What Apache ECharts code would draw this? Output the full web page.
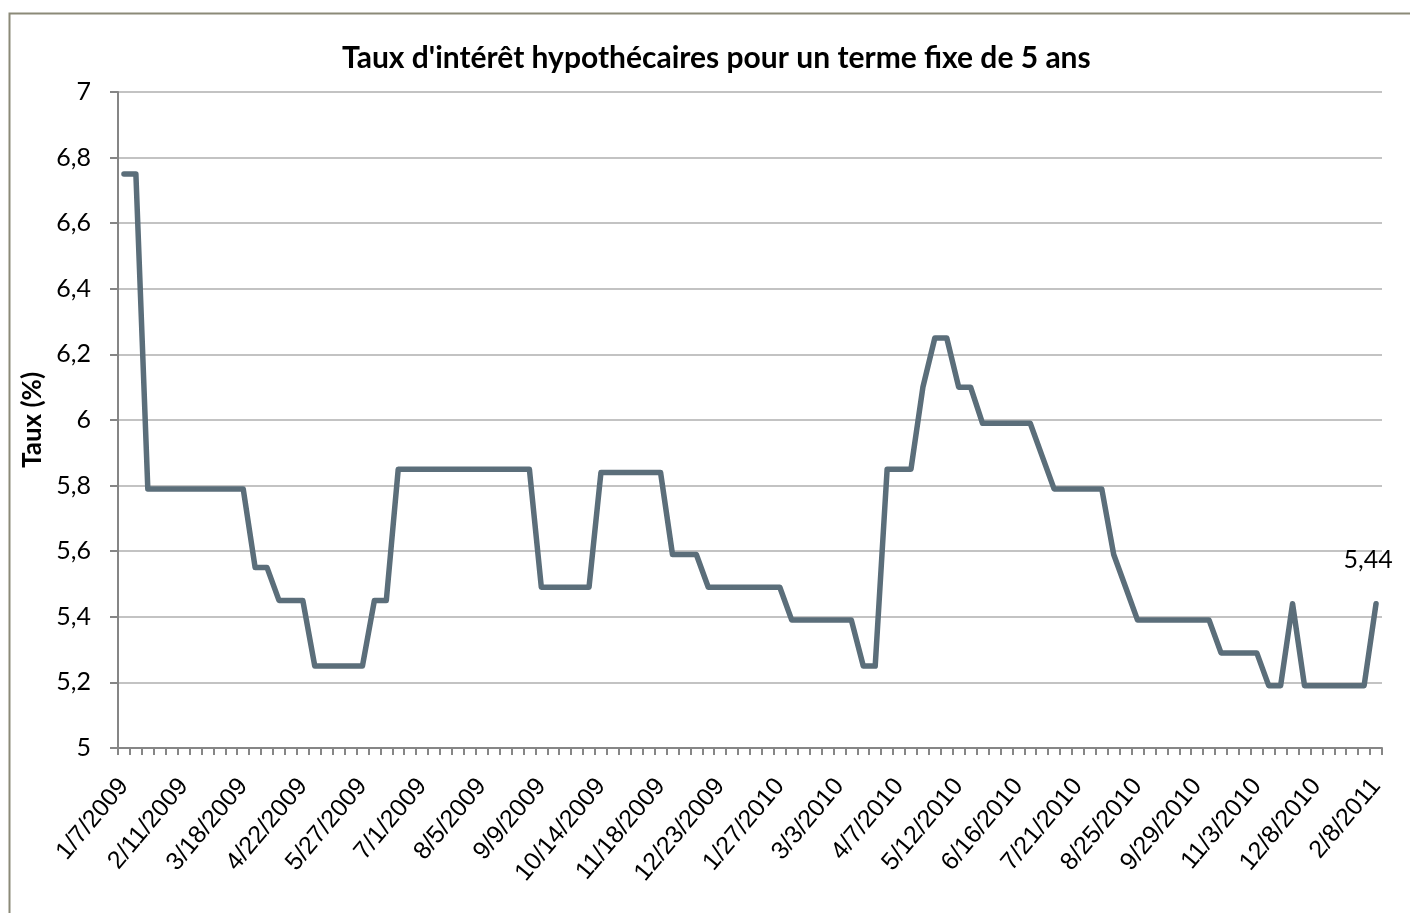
<!DOCTYPE html>
<html>
<head>
<meta charset="utf-8">
<title>Taux hypothécaires 5 ans</title>
<script src="https://cdn.jsdelivr.net/npm/echarts@6/dist/echarts.min.js"></script>
<style>
    html, body { margin: 0; padding: 0; background: #ffffff; }
    #chart { width: 1410px; height: 913px; }
</style>
</head>
<body>
<div id="chart"></div>
<script>
// dates (weekly, Excel text axis)
var dates = [
    "1/7/2009", "1/14/2009", "1/21/2009", "1/28/2009", "2/4/2009",
    "2/11/2009", "2/18/2009", "2/25/2009", "3/4/2009", "3/11/2009",
    "3/18/2009", "3/25/2009", "4/1/2009", "4/8/2009", "4/15/2009",
    "4/22/2009", "4/29/2009", "5/6/2009", "5/13/2009", "5/20/2009",
    "5/27/2009", "6/3/2009", "6/10/2009", "6/17/2009", "6/24/2009",
    "7/1/2009", "7/8/2009", "7/15/2009", "7/22/2009", "7/29/2009",
    "8/5/2009", "8/12/2009", "8/19/2009", "8/26/2009", "9/2/2009",
    "9/9/2009", "9/16/2009", "9/23/2009", "9/30/2009", "10/7/2009",
    "10/14/2009", "10/21/2009", "10/28/2009", "11/4/2009", "11/11/2009",
    "11/18/2009", "11/25/2009", "12/2/2009", "12/9/2009", "12/16/2009",
    "12/23/2009", "12/30/2009", "1/6/2010", "1/13/2010", "1/20/2010",
    "1/27/2010", "2/3/2010", "2/10/2010", "2/17/2010", "2/24/2010",
    "3/3/2010", "3/10/2010", "3/17/2010", "3/24/2010", "3/31/2010",
    "4/7/2010", "4/14/2010", "4/21/2010", "4/28/2010", "5/5/2010",
    "5/12/2010", "5/19/2010", "5/26/2010", "6/2/2010", "6/9/2010",
    "6/16/2010", "6/23/2010", "6/30/2010", "7/7/2010", "7/14/2010",
    "7/21/2010", "7/28/2010", "8/4/2010", "8/11/2010", "8/18/2010",
    "8/25/2010", "9/1/2010", "9/8/2010", "9/15/2010", "9/22/2010",
    "9/29/2010", "10/6/2010", "10/13/2010", "10/20/2010", "10/27/2010",
    "11/3/2010", "11/10/2010", "11/17/2010", "11/24/2010", "12/1/2010",
    "12/8/2010", "12/15/2010", "12/22/2010", "1/12/2011", "1/26/2011",
    "2/8/2011"
];

// taux fixe 5 ans (%)
var taux = [
    6.75, 6.75, 5.79, 5.79, 5.79, 5.79, 5.79, 5.79, 5.79, 5.79,
    5.79, 5.55, 5.55, 5.45, 5.45, 5.45, 5.25, 5.25, 5.25, 5.25,
    5.25, 5.45, 5.45, 5.85, 5.85, 5.85, 5.85, 5.85, 5.85, 5.85,
    5.85, 5.85, 5.85, 5.85, 5.85, 5.49, 5.49, 5.49, 5.49, 5.49,
    5.84, 5.84, 5.84, 5.84, 5.84, 5.84, 5.59, 5.59, 5.59, 5.49,
    5.49, 5.49, 5.49, 5.49, 5.49, 5.49, 5.39, 5.39, 5.39, 5.39,
    5.39, 5.39, 5.25, 5.25, 5.85, 5.85, 5.85, 6.10, 6.25, 6.25,
    6.10, 6.10, 5.99, 5.99, 5.99, 5.99, 5.99, 5.89, 5.79, 5.79,
    5.79, 5.79, 5.79, 5.59, 5.49, 5.39, 5.39, 5.39, 5.39, 5.39,
    5.39, 5.39, 5.29, 5.29, 5.29, 5.29, 5.19, 5.19, 5.44, 5.19,
    5.19, 5.19, 5.19, 5.19, 5.19, 5.44
];

var yTicks = { min: 5, max: 7, step: 0.2 };

var lineColor = "#5b6e7a";

var chart = echarts.init(document.getElementById("chart"));

// seul le dernier point porte une étiquette
var lastIdx = taux.length - 1;
var seriesData = taux.map(function (v, i) {
    if (i === lastIdx) {
        return {
            value: v,
            label: {
                show: true,
                position: "top",
                distance: 31,
                offset: [-8, 0],
                formatter: function (p) { return String(p.value).replace(".", ","); },
                fontFamily: "Lato",
                fontSize: 25,
                color: "#000000"
            }
        };
    }
    return v;
});

var option = {
    backgroundColor: "#ffffff",
    animation: false,
    title: {
        text: "Taux d'intérêt hypothécaires pour un terme fixe de 5 ans",
        left: 337,
        top: 38,
        textStyle: {
            fontFamily: "Lato",
            fontWeight: "bold",
            fontSize: 30,
            color: "#000000"
        }
    },
    graphic: [
        {
            // cadre de la zone graphique (Excel)
            type: "rect",
            shape: { x: 9.5, y: 13.5, width: 1500, height: 1000 },
            style: { fill: null, stroke: "#8b8a78", lineWidth: 2 },
            silent: true
        }
    ],
    grid: {
        left: 118,
        right: 28,
        top: 92,
        bottom: 165,
        containLabel: false
    },
    xAxis: {
        type: "category",
        boundaryGap: true,
        data: dates,
        axisLine: {
            show: true,
            lineStyle: { color: "#868686", width: 2 }
        },
        axisTick: {
            show: true,
            interval: 0,
            length: 7,
            lineStyle: { color: "#868686", width: 2 }
        },
        axisLabel: {
            interval: 4,
            rotate: 50,
            margin: 34,
            fontFamily: "Liberation Sans",
            fontSize: 25,
            color: "#000000"
        },
        splitLine: { show: false }
    },
    yAxis: {
        type: "value",
        min: yTicks.min,
        max: yTicks.max,
        interval: yTicks.step,
        name: "Taux (%)",
        nameLocation: "middle",
        nameGap: 72,
        nameRotate: 90,
        nameTextStyle: {
            fontFamily: "Lato",
            fontWeight: "bold",
            fontSize: 26,
            color: "#000000"
        },
        axisLine: {
            show: true,
            lineStyle: { color: "#868686", width: 2 }
        },
        axisTick: {
            show: true,
            inside: false,
            length: 8,
            lineStyle: { color: "#868686", width: 2 }
        },
        axisLabel: {
            margin: 27,
            fontFamily: "Lato",
            fontSize: 25,
            color: "#000000",
            formatter: function (v) {
                return String(Math.round(v * 10) / 10).replace(".", ",");
            }
        },
        splitLine: {
            show: true,
            lineStyle: { color: "#c3c3c3", width: 2 }
        }
    },
    series: [
        {
            name: "Taux",
            type: "line",
            data: seriesData,
            symbol: "circle",
            symbolSize: 1,
            showSymbol: true,
            showAllSymbol: true,
            lineStyle: {
                color: lineColor,
                width: 5.5,
                cap: "round",
                join: "round"
            },
            itemStyle: { color: lineColor }
        }
    ]
};

chart.setOption(option);
</script>
</body>
</html>
